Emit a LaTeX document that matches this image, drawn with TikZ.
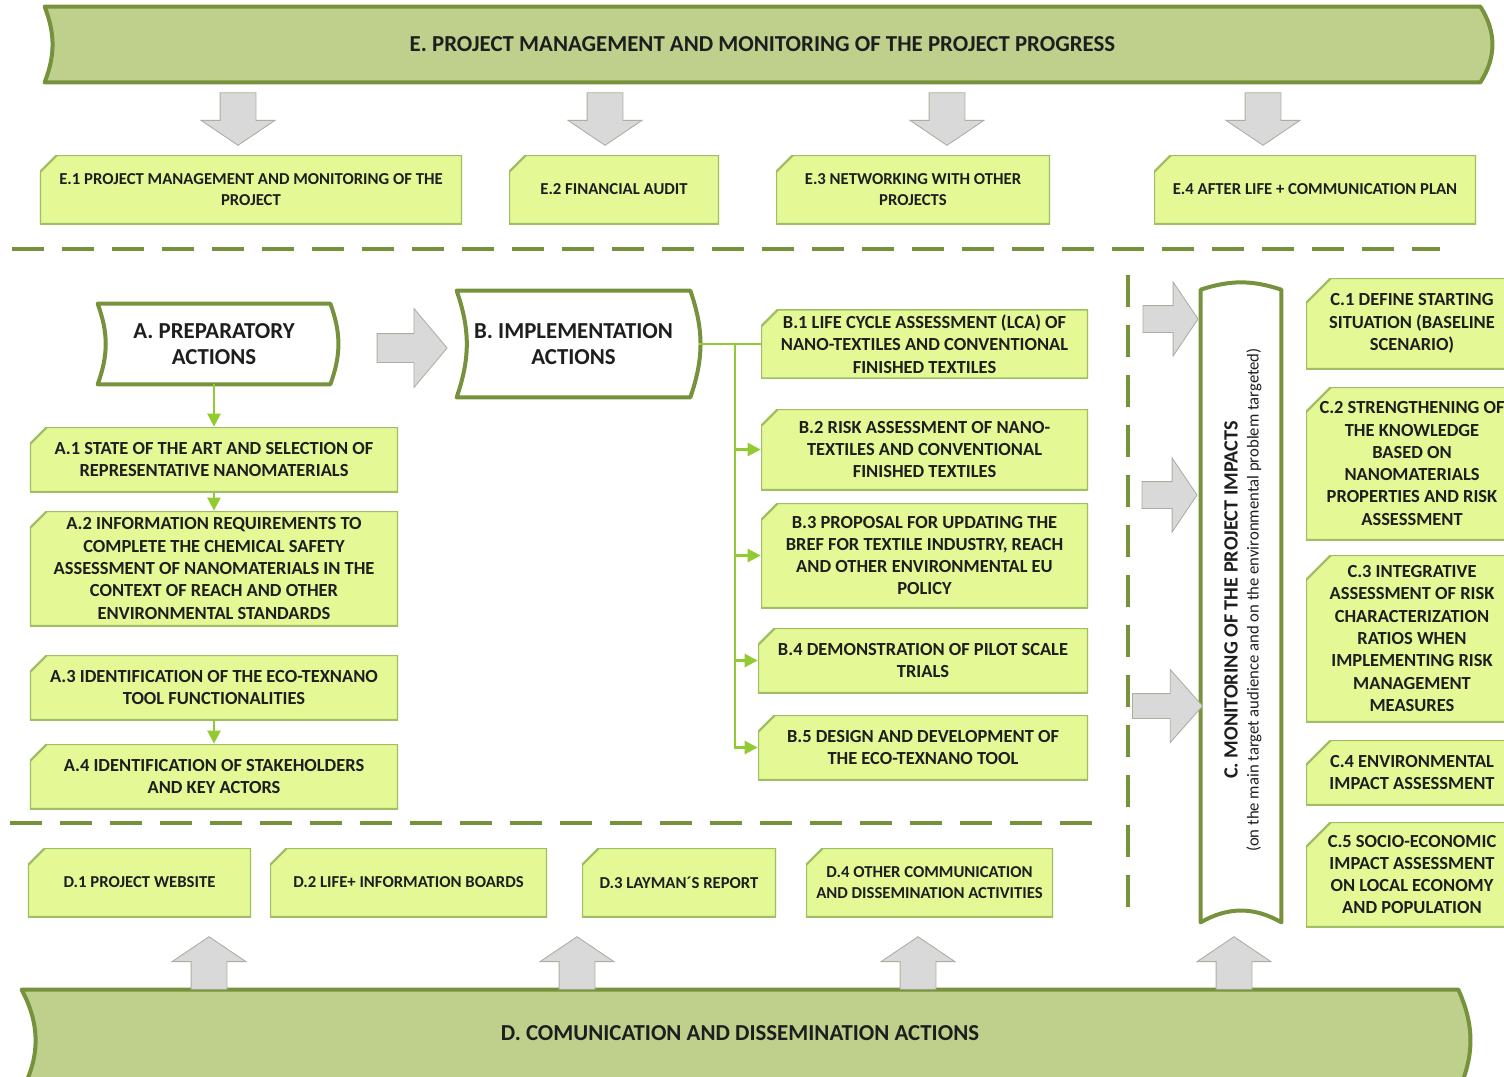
\documentclass[tikz,border=0pt]{standalone}
\usepackage{fontspec}
\setmainfont{Carlito}
\usetikzlibrary{arrows.meta, positioning, shapes.arrows, backgrounds}

\definecolor{bannerfill}{RGB}{190,208,140}
\definecolor{frameolive}{RGB}{118,146,60}
\definecolor{subfill}{RGB}{228,248,150}
\definecolor{subedge}{RGB}{160,190,100}
\definecolor{limeline}{RGB}{146,202,50}
\definecolor{arrowfill}{RGB}{217,217,217}
\definecolor{arrowedge}{RGB}{170,176,160}
\definecolor{ink}{RGB}{30,30,30}

\begin{document}
\begin{tikzpicture}[x=0.2mm, y=-0.2mm,
    every node/.style={text=ink},
    cutsize/.store in=\cutsize, cutsize=3.4mm,
    subbox/.style={rectangle, fill=white, align=center, inner sep=0pt, font=\bfseries\fontsize{10.5}{12.7}\selectfont,
      path picture={\fill[subfill, draw=subedge, line width=1.3pt]
        ([xshift=\cutsize]path picture bounding box.north west) -- (path picture bounding box.north east)
        -- (path picture bounding box.south east) -- (path picture bounding box.south west)
        -- ([yshift=-\cutsize]path picture bounding box.north west) -- cycle;}},
    smallbox/.style={subbox, font=\bfseries\fontsize{9.5}{11.8}\selectfont},
    cbox/.style={subbox, cutsize=5mm},
    headtext/.style={align=center, inner sep=0pt, font=\bfseries\fontsize{13}{14.8}\selectfont},
    outline/.style={draw=frameolive, line width=0.8mm, line join=round},
    dashline/.style={draw=frameolive, line width=0.8mm, dash pattern=on 6.4mm off 3.6mm},
    blockarrow/.style={single arrow, draw=arrowedge, fill=arrowfill, line width=0.5pt, inner xsep=0pt, inner ysep=3.5mm, single arrow head extend=3.8mm, single arrow head indent=0pt, single arrow tip angle=112, minimum height=10.5mm},
    greenline/.style={draw=limeline, line width=1.4pt},
    greenarrow/.style={greenline, -{Triangle[length=2.6mm, width=2.6mm]}}
]
\useasboundingbox (0,0) rectangle (1504,1076);

% banners
\node[headtext, minimum width=287mm, minimum height=15mm] (E) at (762.5,44.5) {E. PROJECT MANAGEMENT AND MONITORING OF THE PROJECT PROGRESS};
\node[headtext, minimum width=287.2mm, minimum height=17.2mm] (D) at (740,1033) {D. COMUNICATION AND DISSEMINATION ACTIONS};

% main actions
\node[headtext, minimum width=46.4mm, minimum height=16mm] (A) at (214,344) {A. PREPARATORY\\ACTIONS};
\node[headtext, minimum width=46.6mm, minimum height=21.2mm] (B) at (573.5,344) {B. IMPLEMENTATION\\ACTIONS};
\node[minimum width=16mm, minimum height=126.4mm, inner sep=0pt] (C) at (1241,606) {};
\node[rotate=90, align=center, inner sep=0pt] (Ctext) at (1243,600)
  {{\bfseries\fontsize{11.5}{13}\selectfont C. MONITORING OF THE PROJECT IMPACTS}\\[0pt]
   {\fontsize{9.5}{10}\selectfont (on the main target audience and on the environmental problem targeted)}};

\begin{scope}[on background layer]
  \draw[outline, fill=bannerfill] (E.north west) -- (E.north east) to[bend left=33] (E.south east)
    -- (E.south west) to[bend right=21] cycle;
  \draw[outline, fill=bannerfill] (D.north west) -- (D.north east) to[bend left=24] ([yshift=-3mm]D.south east)
    -- ([yshift=-3mm]D.south west) to[bend right=28] cycle;
  \draw[outline, fill=white] (A.north west) -- (A.north east) to[bend left=20] (A.south east)
    -- (A.south west) to[bend right=20] cycle;
  \draw[outline, fill=white] (B.north west) -- (B.north east) to[bend left=19] (B.south east)
    -- (B.south west) to[bend right=19] cycle;
  \draw[outline, fill=white] (C.north west) to[bend left=18] (C.north east) -- (C.south east)
    to[bend right=30] (C.south west) -- cycle;
\end{scope}

% E tasks
\node[smallbox, minimum width=84.4mm, minimum height=13.8mm] (E1) at (251,189.5) {E.1 PROJECT MANAGEMENT AND MONITORING OF THE\\PROJECT};
\node[smallbox, minimum width=42mm, minimum height=13.8mm] (E2) at (614,189.5) {E.2 FINANCIAL AUDIT};
\node[smallbox, minimum width=54.8mm, minimum height=13.8mm] (E3) at (913,189.5) {E.3 NETWORKING WITH OTHER\\PROJECTS};
\node[smallbox, minimum width=64.4mm, minimum height=13.8mm] (E4) at (1315,189.5) {E.4 AFTER LIFE + COMMUNICATION PLAN};

% A tasks
\node[subbox, minimum width=73.6mm, minimum height=13mm] (A1) at (214,459.5) {A.1 STATE OF THE ART AND SELECTION OF\\REPRESENTATIVE NANOMATERIALS};
\node[subbox, minimum width=73.6mm, minimum height=23mm] (A2) at (214,568.5) {A.2 INFORMATION REQUIREMENTS TO\\COMPLETE THE CHEMICAL SAFETY\\ASSESSMENT OF NANOMATERIALS IN THE\\CONTEXT OF REACH AND OTHER\\ENVIRONMENTAL STANDARDS};
\node[subbox, minimum width=73.6mm, minimum height=13mm] (A3) at (214,687.5) {A.3 IDENTIFICATION OF THE ECO-TEXNANO\\TOOL FUNCTIONALITIES};
\node[subbox, minimum width=73.6mm, minimum height=13mm] (A4) at (214,776.5) {A.4 IDENTIFICATION OF STAKEHOLDERS\\AND KEY ACTORS};

% B tasks
\node[subbox, minimum width=65.4mm, minimum height=13.8mm] (B1) at (924.5,344) {B.1 LIFE CYCLE ASSESSMENT (LCA) OF\\NANO-TEXTILES AND CONVENTIONAL\\FINISHED TEXTILES};
\node[subbox, minimum width=65.4mm, minimum height=16.2mm] (B2) at (924.5,449.5) {B.2 RISK ASSESSMENT OF NANO-\\TEXTILES AND CONVENTIONAL\\FINISHED TEXTILES};
\node[subbox, minimum width=65.4mm, minimum height=21mm] (B3) at (924.5,555.5) {B.3 PROPOSAL FOR UPDATING THE\\BREF FOR TEXTILE INDUSTRY, REACH\\AND OTHER ENVIRONMENTAL EU\\POLICY};
\node[subbox, minimum width=66mm, minimum height=13mm] (B4) at (923,660.5) {B.4 DEMONSTRATION OF PILOT SCALE\\TRIALS};
\node[subbox, minimum width=66mm, minimum height=13mm] (B5) at (923,747.5) {B.5 DESIGN AND DEVELOPMENT OF\\THE ECO-TEXNANO TOOL};

% C tasks
\node[cbox, minimum width=42.4mm, minimum height=18.2mm] (C1) at (1412,323.5) {C.1 DEFINE STARTING\\SITUATION (BASELINE\\SCENARIO)};
\node[cbox, minimum width=42.4mm, minimum height=30.6mm] (C2) at (1412,463.5) {C.2 STRENGTHENING OF\\THE KNOWLEDGE\\BASED ON\\NANOMATERIALS\\PROPERTIES AND RISK\\ASSESSMENT};
\node[cbox, minimum width=42.4mm, minimum height=33.4mm] (C3) at (1412,638.5) {C.3 INTEGRATIVE\\ASSESSMENT OF RISK\\CHARACTERIZATION\\RATIOS WHEN\\IMPLEMENTING RISK\\MANAGEMENT\\MEASURES};
\node[cbox, minimum width=42.4mm, minimum height=13mm] (C4) at (1412,772.5) {C.4 ENVIRONMENTAL\\IMPACT ASSESSMENT};
\node[cbox, minimum width=42.4mm, minimum height=21mm] (C5) at (1412,874.5) {C.5 SOCIO-ECONOMIC\\IMPACT ASSESSMENT\\ON LOCAL ECONOMY\\AND POPULATION};

% D tasks
\node[smallbox, minimum width=44.6mm, minimum height=13.8mm] (D1) at (139.5,882.5) {D.1 PROJECT WEBSITE};
\node[smallbox, minimum width=55.4mm, minimum height=13.8mm] (D2) at (408.5,882.5) {D.2 LIFE+ INFORMATION BOARDS};
\node[smallbox, minimum width=38.8mm, minimum height=13.8mm] (D3) at (679,882.5) {D.3 LAYMAN´S REPORT};
\node[smallbox, minimum width=49.4mm, minimum height=13.8mm] (D4) at (929.5,882.5) {D.4 OTHER COMMUNICATION\\AND DISSEMINATION ACTIVITIES};

% separators
\draw[dashline] (12,249) -- (1440,249);
\draw[dashline] (10,823) -- (1095,823);
\draw[dashline] (1128,275) -- (1128,925);

% grey block arrows
\foreach \x [count=\i] in {238,605,947,1263}
  \node[blockarrow, rotate=-90] (down\i) at (\x,113) {};
\foreach \x [count=\i] in {209,577,918,1234}
  \node[blockarrow, rotate=90] (up\i) at (\x,969) {};
\node[blockarrow, minimum height=14mm, inner ysep=2.8mm, single arrow head extend=5mm, single arrow tip angle=100] (AtoB) at (406,348) {};
\node[blockarrow, minimum height=11mm, inner ysep=2.6mm, single arrow head extend=4.7mm] (toC1) at (1166,319) {};
\node[blockarrow, minimum height=11mm, inner ysep=2.6mm, single arrow head extend=4.7mm] (toC2) at (1165,495) {};
\node[blockarrow, minimum height=14mm, inner ysep=2.4mm, single arrow head extend=4.8mm, single arrow tip angle=97] (toC3) at (1162,706) {};

% green links
\coordinate (Bj) at (735,344);
\draw[greenarrow] (A) -- (A1);
\draw[greenarrow] (A1) -- (A2);
\draw[greenarrow] (A3) -- (A4);
\draw[greenline, shorten <=1.8mm] (B.east) -- (B1.west);
\foreach \n in {B2,B3,B4,B5}
  \draw[greenarrow] (Bj) |- (\n.west);
\end{tikzpicture}
\end{document}
